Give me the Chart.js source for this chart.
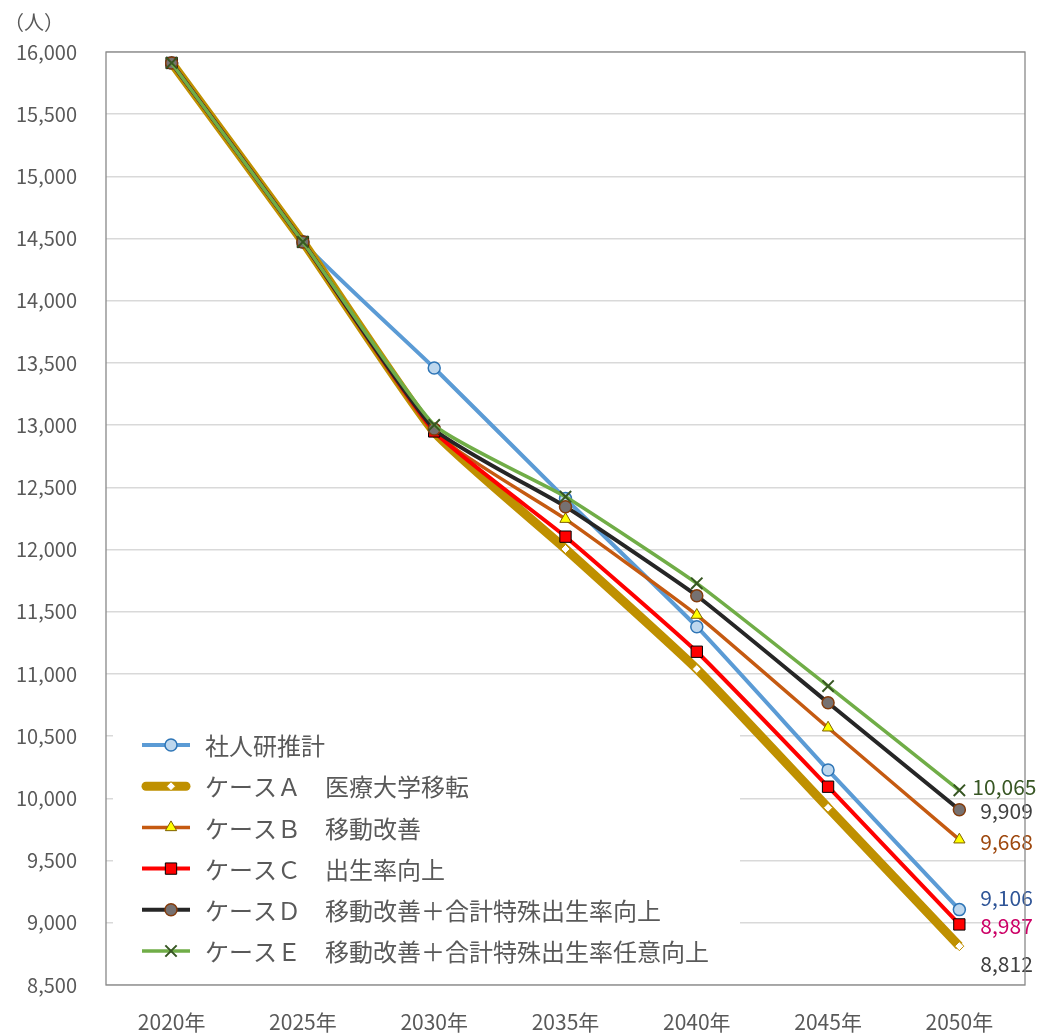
<!DOCTYPE html>
<html>
<head>
<meta charset="utf-8">
<script src="https://cdn.jsdelivr.net/npm/chart.js@4/dist/chart.umd.min.js"></script>
<style>
  html, body { margin: 0; padding: 0; background: #ffffff; }
  #wrap { width: 1039px; height: 1033px; position: relative; }
</style>
</head>
<body>
<div id="wrap"><canvas id="chart" width="1039" height="1033"></canvas></div>
<script>
// 年次
const years = ['2020年', '2025年', '2030年', '2035年', '2040年', '2045年', '2050年'];

// 将来人口（人）
const ipss  = [15912, 14473, 13460, 12410, 11380, 10228, 9106];
const caseA = [15912, 14473, 12945, 12005, 11040, 9925, 8812];
const caseB = [15912, 14473, 12940, 12245, 11474, 10568, 9668];
const caseC = [15912, 14473, 12950, 12104, 11179, 10094, 8987];
const caseD = [15912, 14473, 12969, 12345, 11629, 10769, 9909];
const caseE = [15912, 14473, 13002, 12425, 11729, 10903, 10065];

const seriesNames = [
  '社人研推計',
  'ケースＡ　医療大学移転',
  'ケースＢ　移動改善',
  'ケースＣ　出生率向上',
  'ケースＤ　移動改善＋合計特殊出生率向上',
  'ケースＥ　移動改善＋合計特殊出生率任意向上'
];

// 縦軸の目盛
const yMin = 8500;
const yMax = 16000;
const yStep = 500;
const yUnit = '（人）';

const FONT = '"Noto Sans CJK JP", "Noto Sans", sans-serif';
const TEXT = '#595959';

// 系列ごとの描画スタイル
const styles = [
  { line: '#5B9BD5', width: 4,   point: 'circle',   r: 6,   fill: '#BDD7EE', edge: '#2E75B6', edgeW: 1.5, label: '#2F5597', dx: 21, dy: -12 },
  { line: '#BF9000', width: 9,   point: 'rectRot',  r: 4.5, fill: '#FFFFFF', edge: '#BF9000', edgeW: 1,   label: '#404040', dx: 21, dy: 18 },
  { line: '#C55A11', width: 3.5, point: 'triangle', r: 6.5, fill: '#FFFF00', edge: '#7F6000', edgeW: 1,   label: '#9E480E', dx: 21, dy: 2 },
  { line: '#FF0000', width: 4,   point: 'rect',     r: 8,   fill: '#FF0000', edge: '#000000', edgeW: 1,   label: '#CC0066', dx: 21, dy: 2 },
  { line: '#262626', width: 4,   point: 'circle',   r: 6,   fill: '#767171', edge: '#843C0C', edgeW: 1.5, label: '#404040', dx: 21, dy: 1 },
  { line: '#70AD47', width: 3.5, point: 'crossRot', r: 8,   fill: '#375623', edge: '#375623', edgeW: 2,   label: '#375623', dx: 13, dy: -3 }
];

const values = [ipss, caseA, caseB, caseC, caseD, caseE];

const datasets = values.map((vals, i) => {
  const s = styles[i];
  return {
    label: seriesNames[i],
    data: vals,
    borderColor: s.line,
    backgroundColor: s.fill,
    borderWidth: s.width,
    pointStyle: s.point,
    pointRadius: s.r,
    pointHoverRadius: s.r,
    pointBackgroundColor: s.fill,
    pointBorderColor: s.edge,
    pointBorderWidth: s.edgeW,
    tension: 0.15,
    fill: false,
    order: values.length - 1 - i // 後の系列ほど手前に描く
  };
});

// 凡例の背景（目盛線を隠す白い枠）
const legendBox = { x: 113, y: 718, w: 627, h: 260 };

const legendBackground = {
  id: 'legendBackground',
  beforeDatasetsDraw(chart) {
    const ctx = chart.ctx;
    ctx.save();
    ctx.fillStyle = '#ffffff';
    ctx.fillRect(legendBox.x, legendBox.y, legendBox.w, legendBox.h);
    ctx.restore();
  }
};

// 枠線・単位・凡例・最終年のラベル
const decorations = {
  id: 'decorations',
  afterDatasetsDraw(chart) {
    const ctx = chart.ctx;
    const area = chart.chartArea;
    ctx.save();

    // 最終年の数値ラベル
    ctx.font = '21px ' + FONT;
    ctx.textAlign = 'left';
    ctx.textBaseline = 'middle';
    chart.data.datasets.forEach((ds, i) => {
      const meta = chart.getDatasetMeta(i);
      const last = meta.data[meta.data.length - 1];
      const v = ds.data[ds.data.length - 1];
      ctx.fillStyle = styles[i].label;
      ctx.fillText(v.toLocaleString('en-US'), last.x + styles[i].dx, last.y + styles[i].dy);
    });

    // プロットエリアの枠
    ctx.strokeStyle = '#898989';
    ctx.lineWidth = 1.3;
    ctx.strokeRect(area.left, area.top, area.right - area.left, area.bottom - area.top);

    // 単位
    ctx.fillStyle = TEXT;
    ctx.font = '20px ' + FONT;
    ctx.textAlign = 'left';
    ctx.textBaseline = 'middle';
    ctx.fillText(yUnit, 4, 22);

    // 凡例
    const draw = Chart.helpers && Chart.helpers.drawPoint;
    const rowTop = 745;
    const rowGap = 41.2;
    ctx.font = '24px ' + FONT;
    chart.data.datasets.forEach((ds, i) => {
      const s = styles[i];
      const y = rowTop + i * rowGap;
      ctx.strokeStyle = s.line;
      ctx.lineWidth = s.width;
      ctx.lineCap = i === 1 ? 'round' : 'butt';
      ctx.beginPath();
      ctx.moveTo(i === 1 ? 146 : 142, y);
      ctx.lineTo(i === 1 ? 186 : 190, y);
      ctx.stroke();
      ctx.lineCap = 'butt';
      if (draw) {
        ctx.fillStyle = s.fill;
        ctx.strokeStyle = s.edge;
        ctx.lineWidth = s.edgeW;
        draw(ctx, { pointStyle: s.point, radius: s.r, borderWidth: s.edgeW, rotation: 0 }, 171, y);
      }
      ctx.fillStyle = TEXT;
      ctx.textAlign = 'left';
      ctx.textBaseline = 'middle';
      ctx.fillText(ds.label, 205, y + 1);
    });

    ctx.restore();
  }
};

new Chart(document.getElementById('chart'), {
  type: 'line',
  data: { labels: years, datasets },
  options: {
    responsive: false,
    animation: false,
    layout: { padding: { left: 0, right: 14, top: 52, bottom: 0 } },
    plugins: {
      legend: { display: false },
      tooltip: { enabled: false }
    },
    scales: {
      x: {
        offset: true,
        grid: { display: false, drawTicks: false },
        border: { display: false },
        ticks: { color: TEXT, font: { family: FONT, size: 21 }, padding: 24, maxRotation: 0 },
        afterFit(scale) { scale.height = 48; }
      },
      y: {
        min: yMin,
        max: yMax,
        grid: { color: '#D9D9D9', lineWidth: 1.5, drawTicks: false },
        border: { display: false },
        ticks: {
          stepSize: yStep,
          color: TEXT,
          font: { family: FONT, size: 20 },
          padding: 29,
          callback: (v) => Number(v).toLocaleString('en-US')
        },
        afterFit(scale) { scale.width = 106; }
      }
    }
  },
  plugins: [legendBackground, decorations]
});
</script>
</body>
</html>
